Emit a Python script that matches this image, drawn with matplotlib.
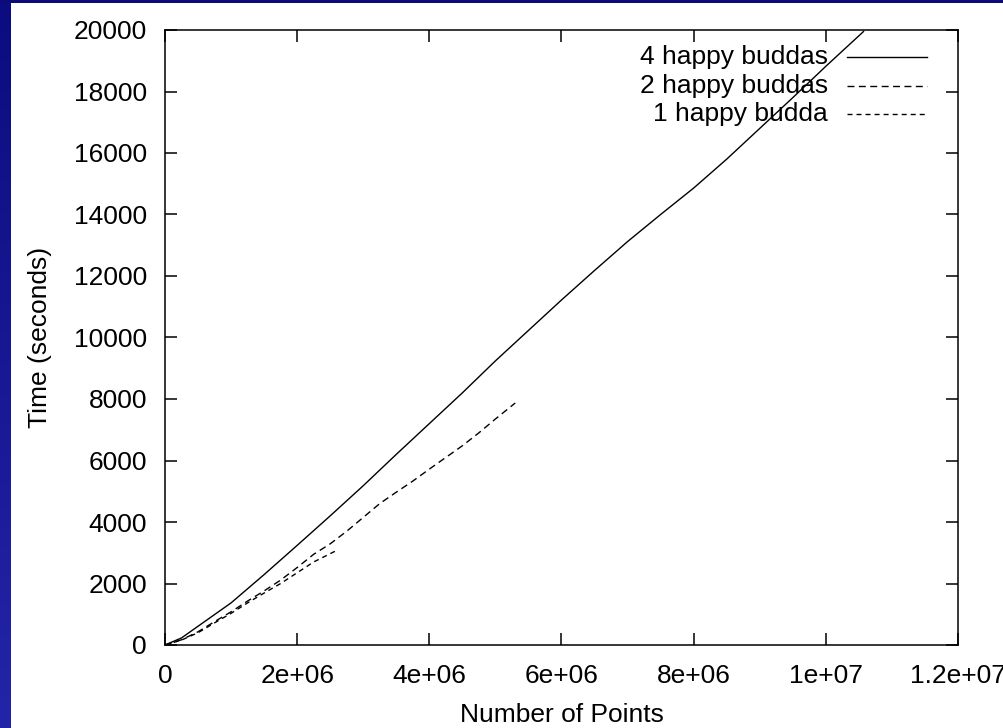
import numpy as np
import matplotlib
matplotlib.use("Agg")
import matplotlib.pyplot as plt
from matplotlib.colors import LinearSegmentedColormap

plt.rcParams["font.family"] = ["Liberation Sans", "DejaVu Sans"]
plt.rcParams["font.size"] = 19

# ── data ─────────────────────────────────────────────────────────────────────
n4 = [0, 0.25e6, 0.5e6, 1.0e6, 1.5e6, 2.0e6, 2.5e6, 3.0e6, 3.5e6, 4.0e6, 4.5e6,
      5.0e6, 5.5e6, 6.0e6, 6.5e6, 7.0e6, 7.5e6, 8.0e6, 8.5e6, 9.0e6, 9.5e6,
      10.0e6, 10.57e6]
t4 = [0, 230, 610, 1370, 2290, 3240, 4200, 5180, 6200, 7200, 8200,
      9240, 10230, 11220, 12180, 13120, 14000, 14860, 15800, 16800, 17800,
      18820, 19950]

n2 = [0, 0.25e6, 0.5e6, 0.75e6, 1.0e6, 1.25e6, 1.5e6, 1.75e6, 2.0e6, 2.25e6,
      2.5e6, 2.75e6, 3.0e6, 3.25e6, 3.5e6, 3.75e6, 4.0e6, 4.25e6, 4.5e6,
      4.75e6, 5.0e6, 5.3e6]
t2 = [0, 170, 430, 760, 1080, 1430, 1760, 2110, 2520, 2950,
      3290, 3700, 4150, 4600, 4970, 5330, 5720, 6100, 6480,
      6900, 7350, 7870]

n1 = [0, 0.25e6, 0.5e6, 0.75e6, 1.0e6, 1.25e6, 1.5e6, 1.75e6, 2.0e6, 2.25e6,
      2.62e6]
t1 = [0, 160, 400, 720, 1030, 1370, 1690, 2000, 2350, 2700, 3100]

labels = ["4 happy buddas", "2 happy buddas", "1 happy budda"]
x_ticks = [0, 2e6, 4e6, 6e6, 8e6, 1e7, 1.2e7]
x_tick_labels = ["0", "2e+06", "4e+06", "6e+06", "8e+06", "1e+07", "1.2e+07"]
y_ticks = list(range(0, 20001, 2000))

# ── figure + slide-style blue frame ──────────────────────────────────────────
fig = plt.figure(figsize=(10.04, 7.28), dpi=100, facecolor="white")

blue = LinearSegmentedColormap.from_list("slide", ["#0c0c80", "#2424a8"])
strip = fig.add_axes([0, 0, 11 / 1004, 1])
strip.imshow(np.linspace(0, 1, 256).reshape(-1, 1), cmap=blue,
             aspect="auto", extent=[0, 1, 0, 1], origin="upper")
strip.axis("off")
top = fig.add_axes([0, 1 - 3 / 728, 1, 3 / 728])
top.set_facecolor("#0c0c78")
top.set_xticks([])
top.set_yticks([])
for s in top.spines.values():
    s.set_visible(False)

# ── main plot ────────────────────────────────────────────────────────────────
ax = fig.add_axes([165 / 1004, 83 / 728, 793 / 1004, 615 / 728])

styles = [
    dict(linestyle="-"),
    dict(linestyle=(0, (5, 3.2))),
    dict(linestyle=(0, (3.6, 2.9))),
]
series = [(n4, t4), (n2, t2), (n1, t1)]
for (xs, ys), st in zip(series, styles):
    ax.plot(xs, ys, color="black", lw=1.0, **st)

ax.set_xlim(0, 1.2e7)
ax.set_ylim(0, 20000)
ax.set_xticks(x_ticks)
ax.set_xticklabels(x_tick_labels)
ax.set_yticks(y_ticks)
ax.tick_params(direction="in", length=8.6, width=1.1, top=True, right=True)
ax.tick_params(axis="y", pad=13)
ax.tick_params(axis="x", pad=14)
for s in ax.spines.values():
    s.set_linewidth(1.1)

ax.set_xlabel("Number of Points")
ax.set_ylabel("Time (seconds)")
ax.xaxis.set_label_coords(0.5, -0.094)
ax.yaxis.set_label_coords(-0.1425, 0.5)

# gnuplot-style key: right-aligned text, sample line to its right
for i, (lab, st) in enumerate(zip(labels, styles)):
    y = 1 - (27 + 28.5 * i) / 615
    ax.text((828 - 165) / 793, y, lab, transform=ax.transAxes,
            ha="right", va="center")
    ax.plot([(847 - 165) / 793, (927 - 165) / 793], [y, y],
            transform=ax.transAxes, color="black", lw=1.0, **st)

fig.savefig("out.png", dpi=100, facecolor=fig.get_facecolor())
